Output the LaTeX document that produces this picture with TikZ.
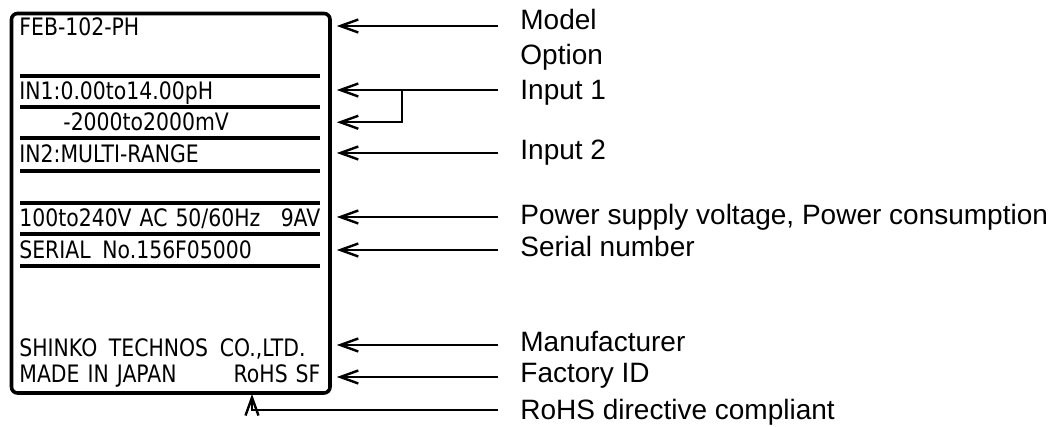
\documentclass[tikz,border=0pt]{standalone}
\usepackage{fontspec}
\setmainfont{Liberation Sans}
\newfontfamily\platefont[FakeStretch=0.85, WordSpace=1.8]{DejaVu Sans}
\usetikzlibrary{arrows.meta, positioning, calc}

\begin{document}
\begin{tikzpicture}[
  x=0.5pt, y=-0.5pt,
  font=\fontsize{14pt}{16pt}\selectfont,
  plate/.style={draw, line width=1.8pt, rounded corners=3pt, minimum width=159.25pt, minimum height=189.75pt, inner sep=0pt},
  row/.style={anchor=base west, inner sep=0pt, font=\platefont\fontsize{12pt}{14pt}\selectfont},
  wrow/.style={row, text width=150.5pt},
  lbl/.style={anchor=base west, inner sep=0pt},
  sep/.style={line width=1.8pt},
  arrow/.style={-{Straight Barb[length=9pt, width=6.5pt]}, line width=1.2pt}
]
\useasboundingbox (0,0) rectangle (1051,427);

% Name plate
\node[plate] (plate) at (170.75,203.25) {};
\foreach \y in {76,107,138,171,203,234,266}
  \draw[sep] (20,\y) -- (320,\y);

% Plate rows
\node[row] (pmodel) at (19,36) {FEB-102-PH};
\node[row] (pin1) at (19,100) {IN1:0.00to14.00pH};
\node[row] (pin1b) at (63,131) {-2000to2000mV};
\node[row] (pin2) at (19,163) {IN2:MULTI-RANGE};
\node[wrow] (ppow) at (19,227) {100to240V AC 50/60Hz \hfill 9AV};
\node[row] (pser) at (19,259) {SERIAL No.156F05000};
\node[row] (pmaker) at (19,357) {SHINKO TECHNOS CO.,LTD.};
\node[wrow] (pmade) at (19,383) {MADE IN JAPAN \hfill RoHS SF};

% Labels
\node[lbl] (model) at (520,30) {Model};
\node[lbl] (option) at (520,65) {Option};
\node[lbl] (in1) at (520,100) {Input 1};
\node[lbl] (in2) at (520,160) {Input 2};
\node[lbl] (power) at (520,225) {Power supply voltage, Power consumption};
\node[lbl] (serial) at (520,257) {Serial number};
\node[lbl] (maker) at (520,352) {Manufacturer};
\node[lbl] (factory) at (520,383) {Factory ID};
\node[lbl] (rohs) at (520,420) {RoHS directive compliant};

% Arrows
\coordinate (edge) at ([xshift=2.5pt]plate.east);
\coordinate (brx) at (402,0);
\coordinate (rtip) at (252,394);
\foreach \n/\dy in {model/2pt, in1/5pt, in2/3.5pt, power/4pt, serial/3.5pt, maker/3.5pt, factory/3pt, rohs/5pt}
  \coordinate (s\n) at ([xshift=-11pt, yshift=\dy]\n.base west);
\foreach \n in {model, in1, in2, power, serial, maker, factory}
  \draw[arrow] (s\n) -- (s\n -| edge);
\draw[arrow] (sin1 -| brx) |- (edge |- pin1b.west);
\draw[arrow] (srohs) -| (rtip);

\end{tikzpicture}
\end{document}
